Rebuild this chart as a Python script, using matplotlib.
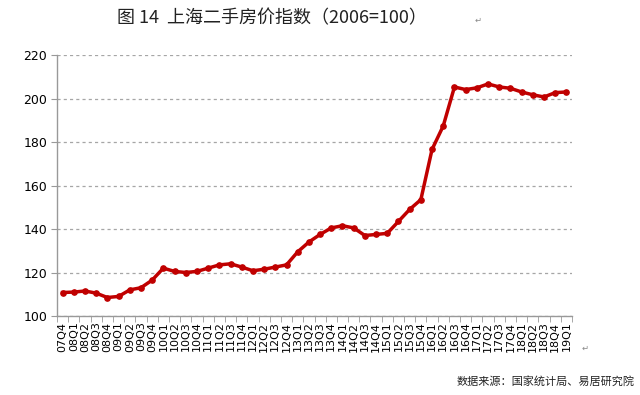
import matplotlib
matplotlib.use("Agg")
import matplotlib.pyplot as plt
import numpy as np

plt.rcParams['font.family'] = ['Noto Sans CJK SC', 'DejaVu Sans']

# -------- Data --------
quarters = ['07Q4',
            '08Q1', '08Q2', '08Q3', '08Q4',
            '09Q1', '09Q2', '09Q3', '09Q4',
            '10Q1', '10Q2', '10Q3', '10Q4',
            '11Q1', '11Q2', '11Q3', '11Q4',
            '12Q1', '12Q2', '12Q3', '12Q4',
            '13Q1', '13Q2', '13Q3', '13Q4',
            '14Q1', '14Q2', '14Q3', '14Q4',
            '15Q1', '15Q2', '15Q3', '15Q4',
            '16Q1', '16Q2', '16Q3', '16Q4',
            '17Q1', '17Q2', '17Q3', '17Q4',
            '18Q1', '18Q2', '18Q3', '18Q4',
            '19Q1']
index_vals = [110.8,
              111.0, 111.5, 110.5, 108.5,
              109.0, 112.0, 113.0, 116.5,
              122.0, 120.5, 120.0, 120.5,
              122.0, 123.5, 124.0, 122.5,
              120.8, 121.5, 122.5, 123.5,
              129.5, 134.0, 137.5, 140.5,
              141.5, 140.5, 137.0, 137.5,
              138.0, 143.5, 149.0, 153.5,
              176.6, 187.4, 205.3, 204.1,
              204.9, 206.7, 205.3, 204.7,
              203.0, 201.7, 200.7, 202.7,
              203.0]
y_ticks = [100, 120, 140, 160, 180, 200, 220]

# -------- Plot --------
fig = plt.figure(figsize=(6.4, 3.95), dpi=100)
ax = fig.add_axes([57 / 640, 1 - 316 / 395, (572 - 57) / 640, (316 - 55) / 395])

x = np.arange(len(quarters))
ax.plot(x, index_vals, color='#C00000', lw=2.5, marker='o', ms=3.8, zorder=3)

ax.set_xlim(-0.5, len(quarters) - 0.5)
ax.set_ylim(100, 220)
ax.set_yticks(y_ticks)
ax.set_yticklabels([str(v) for v in y_ticks], fontsize=9, family='DejaVu Sans')
ax.set_xticks(x)
ax.set_xticklabels(quarters, rotation=90, fontsize=8, family='DejaVu Sans')
ax.set_xticks(np.arange(-0.5, len(quarters)), minor=True)
ax.tick_params(axis='x', which='major', length=0, pad=4)
ax.tick_params(axis='x', which='minor', length=4, color='#999999', direction='out')
ax.tick_params(axis='y', length=4, color='#999999', pad=3)

ax.yaxis.grid(True, ls=(0, (2.5, 2.5)), color='#a6a6a6', lw=0.9)
ax.set_axisbelow(True)
for s in ['top', 'right']:
    ax.spines[s].set_visible(False)
for s in ['left', 'bottom']:
    ax.spines[s].set_color('#999999')
    ax.spines[s].set_linewidth(1.0)

fig.text(272 / 640, 1 - 18 / 395, '图 14  上海二手房价指数（2006=100）', ha='center', va='center',
         fontsize=13, color='#222222')
fig.text(478 / 640, 1 - 20 / 395, '↵', ha='center', va='center', fontsize=6, color='#888888',
         family='DejaVu Sans')
fig.text(585 / 640, 1 - 348 / 395, '↵', ha='center', va='center', fontsize=6, color='#888888',
         family='DejaVu Sans')
fig.text(635 / 640, 1 - 381 / 395, '数据来源：国家统计局、易居研究院', ha='right', va='center',
         fontsize=8, color='#222222')

fig.savefig('out.png', dpi=100)
